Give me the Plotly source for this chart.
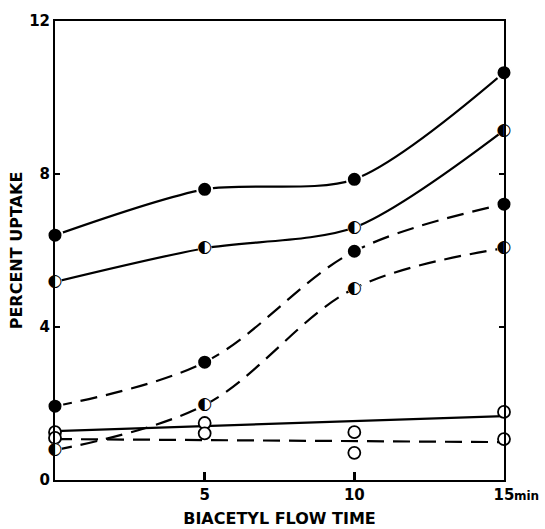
import plotly.graph_objects as go

# ---- data ----
times = [0, 5, 10, 15]
solid_filled = [6.40, 7.60, 7.86, 10.65]
solid_half = [5.18, 6.06, 6.60, 9.14]
dashed_filled = [1.93, 3.08, 5.98, 7.21]
dashed_half = [0.78, 1.96, 5.01, 6.06]
open_upper = [1.25, 1.49, 1.25, 1.78]
open_lower = [1.10, 1.22, 0.71, 1.07]
fit_x = [0, 15]
fit_solid_open = [1.28, 1.67]
fit_dashed_open = [1.07, 0.99]

x_ticks = [5, 10, 15]
x_ticktext = ["5", "10", "15"]
y_ticks = [0, 4, 8, 12]
y_ticktext = ["0", "4", "8", "12"]

BLACK = "black"
LW = 2.2
DASH = "17px,9px"

fig = go.Figure()

def curve(y, dash=None, x=times, shape="spline", smoothing=0.75):
    fig.add_trace(go.Scatter(
        x=x, y=y, mode="lines",
        line=dict(color=BLACK, width=LW, dash=dash, shape=shape, smoothing=smoothing),
        hoverinfo="skip", showlegend=False, cliponaxis=False))

curve(solid_filled, smoothing=0.8)
curve(solid_half, smoothing=0.8)
curve(dashed_filled, DASH, smoothing=1.0)
curve(dashed_half, DASH, smoothing=1.0)
curve(fit_solid_open, x=fit_x, shape="linear")
curve(fit_dashed_open, DASH, x=fit_x, shape="linear")

def filled(y):
    fig.add_trace(go.Scatter(
        x=times, y=y, mode="markers",
        marker=dict(symbol="circle", size=15, color=BLACK,
                    line=dict(color="white", width=2)),
        showlegend=False, cliponaxis=False))

def opened(y):
    fig.add_trace(go.Scatter(
        x=times, y=y, mode="markers",
        marker=dict(symbol="circle", size=12, color="white",
                    line=dict(color=BLACK, width=1.8)),
        showlegend=False, cliponaxis=False))

def half(y):
    fig.add_trace(go.Scatter(
        x=times, y=y, mode="markers",
        marker=dict(symbol="circle", size=13, color="white",
                    line=dict(color="white", width=1)),
        showlegend=False, cliponaxis=False))
    fig.add_trace(go.Scatter(
        x=times, y=y, mode="text", text=["◐"] * len(y),
        textposition="middle center",
        textfont=dict(family="DejaVu Sans", size=17, color=BLACK),
        showlegend=False, cliponaxis=False))

filled(solid_filled)
filled(dashed_filled)
opened(open_upper)
opened(open_lower)
half(solid_half)
half(dashed_half)

tickfont = dict(family="DejaVu Sans", size=15, color=BLACK, weight="bold")
titlefont = dict(family="DejaVu Sans", size=16, color=BLACK, weight="bold")

fig.update_layout(
    width=545, height=529,
    margin=dict(l=55, r=41, t=21, b=49),
    paper_bgcolor="white", plot_bgcolor="white",
    showlegend=False,
    xaxis=dict(
        range=[0, 15], tickmode="array", tickvals=x_ticks, ticktext=x_ticktext,
        ticks="inside", ticklen=8, tickwidth=3, tickcolor=BLACK,
        showline=True, linecolor=BLACK, linewidth=2, mirror=True,
        showgrid=False, zeroline=False, tickfont=tickfont, automargin=False,
        title=dict(text="BIACETYL FLOW TIME", font=titlefont, standoff=10),
    ),
    yaxis=dict(
        range=[0, 12], tickmode="array", tickvals=y_ticks, ticktext=y_ticktext,
        ticks="inside", ticklen=5, tickwidth=2, tickcolor=BLACK,
        showline=True, linecolor=BLACK, linewidth=2, mirror="ticks",
        showgrid=False, zeroline=False, tickfont=tickfont, automargin=False,
        title=dict(text="PERCENT UPTAKE", font=titlefont, standoff=3),
    ),
)

fig.add_annotation(
    x=15, y=0, xref="x", yref="y", text="min", showarrow=False,
    xanchor="left", yanchor="top", xshift=8, yshift=-7,
    font=dict(family="DejaVu Sans", size=12, color=BLACK, weight="bold"))

fig.write_html("out.html")
